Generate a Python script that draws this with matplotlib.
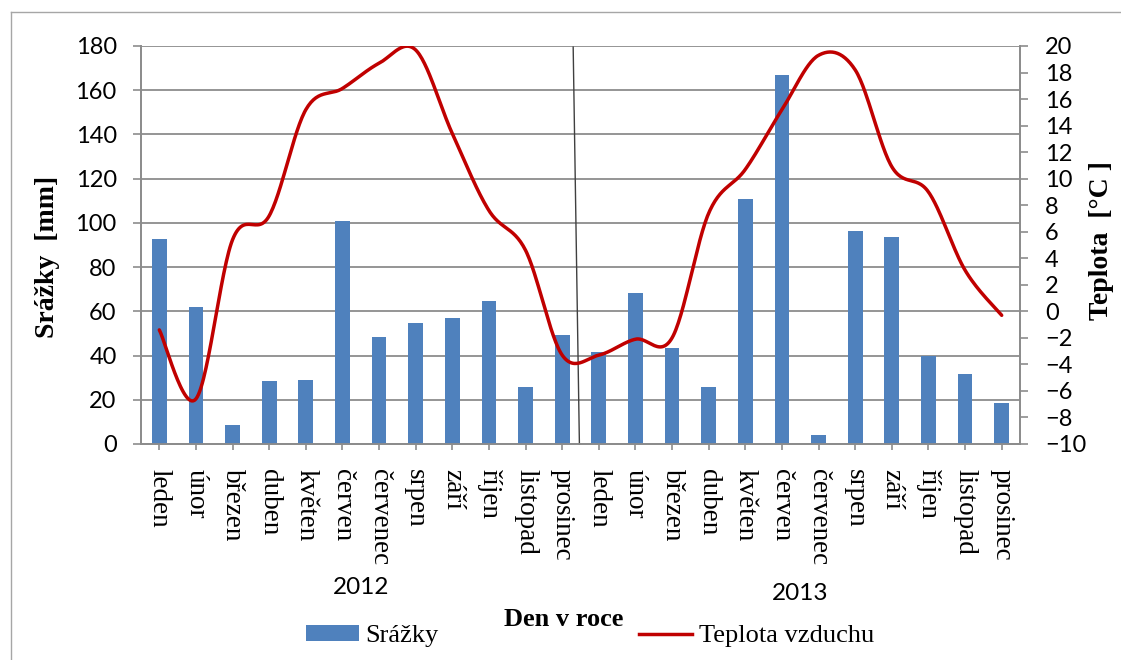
import numpy as np
import matplotlib
matplotlib.use("Agg")
import matplotlib.pyplot as plt
from matplotlib.lines import Line2D
from matplotlib.patches import Patch

# Monthly data, 2012 and 2013
months = ["leden", "únor", "březen", "duben", "květen", "červen",
          "červenec", "srpen", "září", "říjen", "listopad", "prosinec"]
years = ["2012", "2013"]
categories = months + months

precip_mm = [92.5, 62.0, 8.7, 28.5, 29.1, 100.7, 48.5, 54.7, 57.0, 64.7, 25.8, 49.3,
             41.6, 68.4, 43.6, 25.8, 110.7, 166.7, 4.2, 96.3, 93.6, 39.9, 31.5, 18.5]
temp_c = [-1.4, -6.6, 5.4, 7.2, 15.2, 16.8, 18.7, 19.7, 13.4, 7.6, 4.6, -3.3,
          -3.3, -2.1, -2.0, 7.4, 10.7, 15.2, 19.3, 18.2, 10.9, 9.0, 3.1, -0.3]

BAR = "#4F81BD"
LINE = "#C00000"
GRID = "#8C8C8C"
SERIF = "Liberation Serif"
SANS = "Lato"


def smooth(xs, ys, n=30):
    """Cardinal (Catmull-Rom) Bezier smoothing through every point."""
    xs = np.asarray(xs, float)
    ys = np.asarray(ys, float)
    px = np.concatenate([[xs[0]], xs, [xs[-1]]])
    py = np.concatenate([[ys[0]], ys, [ys[-1]]])
    out_x, out_y = [], []
    t = np.linspace(0, 1, n)
    for i in range(1, len(px) - 2):
        p0 = np.array([px[i], py[i]])
        p3 = np.array([px[i + 1], py[i + 1]])
        c1 = p0 + (np.array([px[i + 1], py[i + 1]]) - np.array([px[i - 1], py[i - 1]])) / 6
        c2 = p3 - (np.array([px[i + 2], py[i + 2]]) - np.array([px[i], py[i]])) / 6
        b = ((1 - t) ** 3)[:, None] * p0 + (3 * (1 - t) ** 2 * t)[:, None] * c1 \
            + (3 * (1 - t) * t ** 2)[:, None] * c2 + (t ** 3)[:, None] * p3
        out_x.extend(b[:, 0])
        out_y.extend(b[:, 1])
    return np.array(out_x), np.array(out_y)


W, H = 1121, 660
fig = plt.figure(figsize=(W / 100, H / 100), dpi=100)
fig.patch.set_facecolor("white")

left, right, bottom, top = 141, 1020, 444, 46
ax = fig.add_axes([left / W, 1 - bottom / H, (right - left) / W, (bottom - top) / H])
ax2 = ax.twinx()

x = np.arange(len(categories))
ax.bar(x, precip_mm, width=0.4, color=BAR, zorder=3)
ax.set_xlim(-0.5, len(categories) - 0.5)
ax.set_ylim(0, 180)
ax.set_yticks(np.arange(0, 181, 20))
ax.grid(axis="y", color=GRID, linewidth=1.3, zorder=0)
ax.set_axisbelow(True)

ax.set_xticks(x)
ax.set_xticklabels(categories, rotation=270, fontfamily=SERIF, fontsize=19.5,
                   ha="center", va="top")
ax.tick_params(axis="x", length=4, width=1.2, color=GRID, pad=14)
ax.tick_params(axis="y", length=5.5, width=1.2, color=GRID, pad=12)
for lab in ax.get_yticklabels():
    lab.set_fontfamily(SANS)
    lab.set_fontsize(17)

sx, sy = smooth(x, temp_c)
ax2.plot(sx, sy, color=LINE, linewidth=2.5, zorder=5, solid_capstyle="round")
ax2.set_ylim(-10, 20)
ax2.set_yticks(np.arange(-10, 21, 2))
ax2.tick_params(axis="y", length=6, width=1.2, color=GRID, pad=12)
for lab in ax2.get_yticklabels():
    lab.set_fontfamily(SANS)
    lab.set_fontsize(17)

for a in (ax, ax2):
    a.spines["top"].set_visible(False)
    for s in ("left", "right", "bottom"):
        a.spines[s].set_color(GRID)
        a.spines[s].set_linewidth(1.3)

# divider between the two years
ax.plot([11.3, 11.47], [179.5, 0], color="#404040", linewidth=1.0, zorder=6,
        clip_on=False)

# axis titles
fig.text(48 / W, 1 - 257 / H, "Srážky  [mm]", rotation=90, ha="center", va="center",
         fontfamily=SERIF, fontweight="bold", fontsize=20)
fig.text(1101 / W, 1 - 241 / H, "Teplota  [°C ]", rotation=90, ha="center", va="center",
         fontfamily=SERIF, fontweight="bold", fontsize=20)
fig.text(564 / W, 1 - 619 / H, "Den v roce", ha="center", va="center",
         fontfamily=SERIF, fontweight="bold", fontsize=19)

# year labels under each block of months
for i, yr in enumerate(years):
    xc = ax.transData.transform((5.5 + 12 * i, 0))[0]
    fig.text(xc / W, 1 - (588 + 5 * i) / H, yr,
             ha="center", va="center", fontfamily=SANS, fontsize=17.5)

# legend
handles = [Patch(facecolor=BAR, edgecolor="none"),
           Line2D([0], [0], color=LINE, linewidth=2.5)]
leg = fig.legend(handles, ["Srážky", "Teplota vzduchu"], loc="center",
                 bbox_to_anchor=(590 / W, 1 - 636 / H), ncol=2, frameon=False,
                 prop={"family": SERIF, "size": 19}, handlelength=2.0,
                 handleheight=0.55, handletextpad=0.25, columnspacing=7.6,
                 borderpad=0, borderaxespad=0)

# chart frame
fig.add_artist(Line2D([11 / W, 11 / W], [0, 1 - 12 / H], transform=fig.transFigure,
                      color="#A6A6A6", linewidth=1.0))
fig.add_artist(Line2D([11 / W, 1], [1 - 12 / H, 1 - 12 / H], transform=fig.transFigure,
                      color="#A6A6A6", linewidth=1.0))

fig.savefig("out.png", dpi=100)
